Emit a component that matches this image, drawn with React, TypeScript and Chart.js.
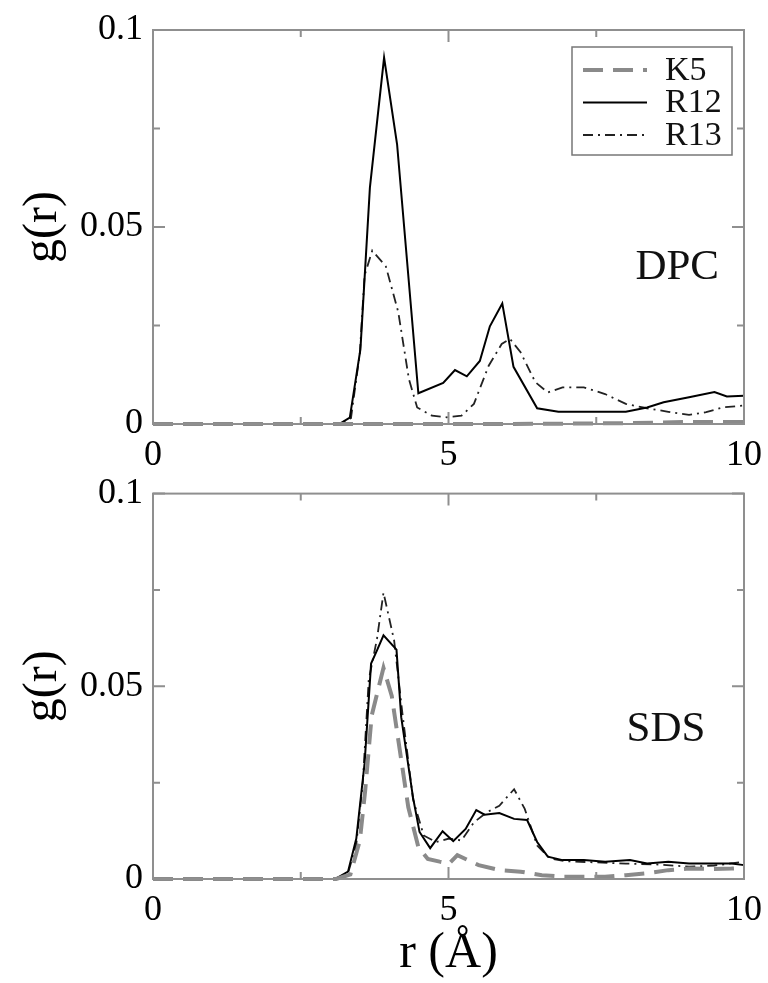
import React, { useEffect, useRef } from 'react';
import { Chart, registerables } from 'chart.js';

Chart.register(...registerables);

const FONT = '"Liberation Serif", "DejaVu Serif", "Times New Roman", serif';

const seriesLabels = ['K5', 'R12', 'R13'];
const panelNames = ['DPC', 'SDS'];
const xMajorTicks = [0, 5, 10];
const xMinorTicks = [2.5, 7.5];
const yMajorTicks = [0, 0.05, 0.1];
const yMajorLabels = ['0', '0.05', '0.1'];
const yMinorTicks = [0.025, 0.075];

// ---- DPC panel ----
const dpcK5R = [0, 2, 4, 6, 8, 9, 10];
const dpcK5G = [0, 0, 0, 0, 0.0002, 0.0005, 0.0005];

const dpcR12R = [0, 3.15, 3.33, 3.51, 3.67, 3.91, 4.13, 4.49, 4.91, 5.11, 5.31, 5.53, 5.70, 5.91, 6.10, 6.50, 6.86, 8.00, 8.36, 8.64, 9.07, 9.50, 9.71, 10];
const dpcR12G = [0, 0, 0.0016, 0.019, 0.060, 0.093, 0.071, 0.0078, 0.0104, 0.0137, 0.0121, 0.016, 0.0248, 0.0306, 0.0145, 0.0040, 0.0031, 0.0031, 0.0042, 0.0055, 0.0068, 0.0081, 0.0070, 0.0072];

const dpcR13R = [0, 3.15, 3.35, 3.50, 3.58, 3.71, 3.94, 4.15, 4.33, 4.47, 4.72, 4.97, 5.22, 5.43, 5.68, 5.90, 6.04, 6.22, 6.47, 6.68, 6.93, 7.29, 7.65, 8.00, 8.36, 8.72, 9.07, 9.36, 9.64, 10];
const dpcR13G = [0, 0, 0.0015, 0.018, 0.0377, 0.044, 0.040, 0.0284, 0.0114, 0.0042, 0.0021, 0.0017, 0.0021, 0.0051, 0.0148, 0.0203, 0.0216, 0.0182, 0.0106, 0.008, 0.0093, 0.0093, 0.0076, 0.0051, 0.004, 0.0031, 0.0023, 0.003, 0.0042, 0.0047];

// ---- SDS panel ----
const sdsK5R = [0, 3.10, 3.34, 3.50, 3.59, 3.70, 3.90, 4.04, 4.18, 4.32, 4.49, 4.65, 4.85, 5.01, 5.15, 5.51, 5.86, 6.22, 6.58, 6.93, 7.65, 8.0, 8.36, 8.72, 9.07, 9.43, 9.79, 10];
const sdsK5G = [0, 0, 0.0012, 0.010, 0.0229, 0.0424, 0.0548, 0.0475, 0.033, 0.0186, 0.0083, 0.0052, 0.0045, 0.004, 0.0062, 0.0036, 0.0023, 0.0019, 0.001, 0.0006, 0.0006, 0.001, 0.0015, 0.0023, 0.0027, 0.0026, 0.0027, 0.0029];

const sdsR12R = [0, 3.08, 3.30, 3.44, 3.58, 3.69, 3.79, 3.90, 4.12, 4.20, 4.40, 4.51, 4.69, 4.90, 5.08, 5.29, 5.47, 5.61, 5.86, 6.11, 6.33, 6.50, 6.68, 6.93, 7.29, 7.65, 8.07, 8.36, 8.72, 9.07, 9.43, 9.79, 10];
const sdsR12G = [0, 0, 0.0019, 0.0105, 0.030, 0.0559, 0.0593, 0.0632, 0.0595, 0.0420, 0.0211, 0.0122, 0.0080, 0.0124, 0.0098, 0.013, 0.0179, 0.0167, 0.0171, 0.0156, 0.0153, 0.0096, 0.0058, 0.0049, 0.0049, 0.0045, 0.0049, 0.004, 0.0045, 0.004, 0.004, 0.004, 0.0036];

const sdsR13R = [0, 3.08, 3.30, 3.44, 3.55, 3.65, 3.79, 3.90, 4.08, 4.22, 4.40, 4.58, 4.79, 5.01, 5.22, 5.43, 5.65, 5.86, 6.11, 6.29, 6.50, 6.72, 7.0, 7.5, 8.0, 8.5, 9.07, 9.5, 10];
const sdsR13G = [0, 0, 0.0015, 0.009, 0.025, 0.0516, 0.0623, 0.0743, 0.0619, 0.043, 0.0207, 0.0113, 0.0096, 0.0105, 0.010, 0.0147, 0.0173, 0.019, 0.0233, 0.0182, 0.0087, 0.0053, 0.0046, 0.0043, 0.004, 0.0038, 0.0032, 0.0035, 0.0045];

// ---- styles ----
const seriesColors = ['#8a8a8a', '#000000', '#222222'];
const seriesWidths = [4, 2, 1.8];
const seriesDashes: number[][] = [[20, 10], [], [10, 5, 2, 5]];
const FRAME = '#8f8f8f';

const panels = [
  {
    name: panelNames[0],
    series: [
      { r: dpcK5R, g: dpcK5G },
      { r: dpcR12R, g: dpcR12G },
      { r: dpcR13R, g: dpcR13G },
    ],
    labelAt: [8.87, 0.0396],
    legend: true,
    xTitle: false,
    padTop: 30,
    xHeight: 46,
    height: 470,
  },
  {
    name: panelNames[1],
    series: [
      { r: sdsK5R, g: sdsK5G },
      { r: sdsR12R, g: sdsR12G },
      { r: sdsR13R, g: sdsR13G },
    ],
    labelAt: [8.68, 0.0387],
    legend: false,
    xTitle: true,
    padTop: 18,
    xHeight: 104,
    height: 513,
  },
];

const frameTicksPlugin = {
  id: 'frameTicks',
  afterDraw(chart: any) {
    const { ctx, chartArea: a, scales } = chart;
    ctx.save();
    ctx.strokeStyle = FRAME;
    ctx.lineWidth = 2;
    ctx.setLineDash([]);
    ctx.strokeRect(a.left, a.top, a.right - a.left, a.bottom - a.top);
    const major = 12;
    const minor = 7;
    ctx.beginPath();
    scales.x.ticks.forEach((t: any) => {
      const px = scales.x.getPixelForValue(t.value);
      const len = xMajorTicks.includes(t.value) ? major : minor;
      ctx.moveTo(px, a.bottom);
      ctx.lineTo(px, a.bottom - len);
      ctx.moveTo(px, a.top);
      ctx.lineTo(px, a.top + len);
    });
    scales.y.ticks.forEach((t: any) => {
      const py = scales.y.getPixelForValue(t.value);
      const isMajor = yMajorTicks.some((m) => Math.abs(m - t.value) < 1e-9);
      const len = isMajor ? major : minor;
      ctx.moveTo(a.left, py);
      ctx.lineTo(a.left + len, py);
      ctx.moveTo(a.right, py);
      ctx.lineTo(a.right - len, py);
    });
    ctx.stroke();
    ctx.restore();
  },
};

const boxLegendPlugin = {
  id: 'boxLegend',
  afterDraw(chart: any, _args: any, opts: any) {
    if (!opts || !opts.show) return;
    const { ctx, chartArea: a } = chart;
    const w = 160;
    const h = 108;
    const x0 = a.right - 12 - w;
    const y0 = a.top + 17;
    ctx.save();
    ctx.strokeStyle = '#777';
    ctx.lineWidth = 1.5;
    ctx.setLineDash([]);
    ctx.strokeRect(x0, y0, w, h);
    chart.data.datasets.forEach((ds: any, i: number) => {
      const y = y0 + 23 + i * 32.5;
      ctx.beginPath();
      ctx.setLineDash(ds.borderDash || []);
      ctx.strokeStyle = ds.borderColor;
      ctx.lineWidth = ds.borderWidth;
      ctx.moveTo(x0 + 11, y);
      ctx.lineTo(x0 + 75, y);
      ctx.stroke();
      ctx.setLineDash([]);
      ctx.fillStyle = '#111';
      ctx.font = `34px ${FONT}`;
      ctx.textAlign = 'left';
      ctx.textBaseline = 'middle';
      ctx.fillText(ds.label, x0 + 93, y + 1);
    });
    ctx.restore();
  },
};

const panelLabelPlugin = {
  id: 'panelLabel',
  afterDraw(chart: any, _args: any, opts: any) {
    if (!opts || !opts.text) return;
    const { ctx, scales } = chart;
    ctx.save();
    ctx.fillStyle = '#111';
    ctx.font = `43px ${FONT}`;
    ctx.textAlign = 'center';
    ctx.textBaseline = 'middle';
    ctx.fillText(opts.text, scales.x.getPixelForValue(opts.at[0]), scales.y.getPixelForValue(opts.at[1]));
    ctx.restore();
  },
};

function makeChart(canvas: HTMLCanvasElement, panel: any) {
  return new Chart(canvas, {
    type: 'line',
    data: {
      datasets: panel.series.map((s: any, i: number) => ({
        label: seriesLabels[i],
        data: s.r.map((x: number, j: number) => ({ x, y: s.g[j] })),
        borderColor: seriesColors[i],
        borderWidth: seriesWidths[i],
        borderDash: seriesDashes[i],
        pointRadius: 0,
        tension: 0,
        fill: false,
        clip: 8,
      })),
    },
    options: {
      animation: false,
      responsive: false,
      maintainAspectRatio: false,
      events: [],
      layout: { padding: { top: panel.padTop, right: 24, left: 0, bottom: 0 } },
      plugins: {
        legend: { display: false },
        tooltip: { enabled: false },
        boxLegend: { show: panel.legend },
        panelLabel: { text: panel.name, at: panel.labelAt },
      } as any,
      scales: {
        x: {
          type: 'linear',
          min: 0,
          max: 10,
          afterBuildTicks: (s: any) => {
            s.ticks = [...xMajorTicks, ...xMinorTicks].sort((p, q) => p - q).map((v) => ({ value: v }));
          },
          ticks: {
            autoSkip: false,
            maxRotation: 0,
            minRotation: 0,
            padding: 2,
            color: '#000',
            font: { family: FONT, size: 36 },
            callback: (v: any) => (xMajorTicks.includes(Number(v)) ? String(v) : ''),
          },
          grid: { display: false },
          border: { display: false },
          title: {
            display: panel.xTitle,
            text: 'r (Å)',
            color: '#000',
            font: { family: FONT, size: 50, lineHeight: 1.1 },
            padding: { top: 0, bottom: 2 },
          },
          afterFit: (s: any) => {
            s.height = panel.xHeight;
          },
        },
        y: {
          type: 'linear',
          min: 0,
          max: 0.1,
          afterBuildTicks: (s: any) => {
            s.ticks = [...yMajorTicks, ...yMinorTicks].sort((p, q) => p - q).map((v) => ({ value: v }));
          },
          ticks: {
            autoSkip: false,
            padding: 2,
            color: '#000',
            font: { family: FONT, size: 36 },
            callback: (v: any) => {
              const k = yMajorTicks.findIndex((m) => Math.abs(m - Number(v)) < 1e-9);
              return k >= 0 ? yMajorLabels[k] : '';
            },
          },
          grid: { display: false },
          border: { display: false },
          title: {
            display: true,
            text: 'g(r)',
            color: '#000',
            font: { family: FONT, size: 48, lineHeight: 1.2 },
            padding: { top: 15, bottom: 0 },
          },
          afterFit: (s: any) => {
            s.width = 153;
          },
        },
      },
    } as any,
    plugins: [frameTicksPlugin, boxLegendPlugin, panelLabelPlugin],
  });
}

export default function App() {
  const topRef = useRef<HTMLCanvasElement>(null);
  const botRef = useRef<HTMLCanvasElement>(null);

  useEffect(() => {
    const c1 = makeChart(topRef.current as HTMLCanvasElement, panels[0]);
    const c2 = makeChart(botRef.current as HTMLCanvasElement, panels[1]);
    return () => {
      c1.destroy();
      c2.destroy();
    };
  }, []);

  return (
    <div style={{ position: 'absolute', left: 0, top: 0, width: 768, height: 983, background: '#fff' }}>
      <canvas
        ref={topRef}
        width={768}
        height={panels[0].height}
        style={{ position: 'absolute', left: 0, top: 0, width: 768, height: panels[0].height, display: 'block' }}
      />
      <canvas
        ref={botRef}
        width={768}
        height={panels[1].height}
        style={{ position: 'absolute', left: 0, top: panels[0].height, width: 768, height: panels[1].height, display: 'block' }}
      />
    </div>
  );
}
